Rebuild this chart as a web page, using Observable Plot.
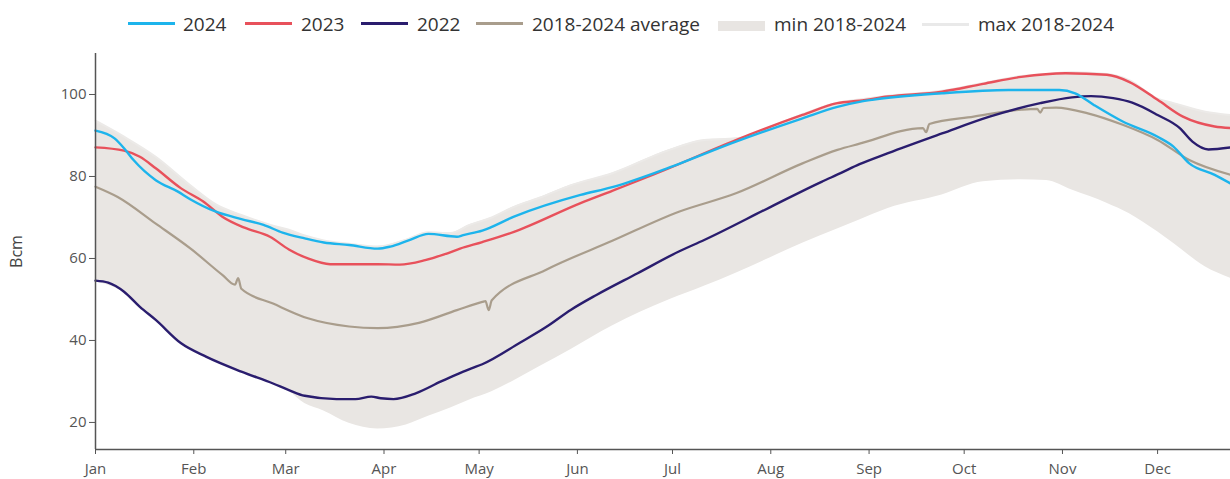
<!DOCTYPE html>
<html>
<head>
<meta charset="utf-8">
<script src="https://cdn.jsdelivr.net/npm/d3@7"></script>
<script src="https://cdn.jsdelivr.net/npm/@observablehq/plot@0.6"></script>
<style>
  body { margin: 0; background: #fff; font-family: "Open Sans", sans-serif; }
  #legend { position: relative; width: 1230px; height: 45px; }
  .sw { position: absolute; }
  .lt { position: absolute; top: 10px; font-size: 19px; line-height: 28px; color: #333; white-space: nowrap; }
  #chart svg { display: block; }
</style>
</head>
<body>
<div id="legend"></div>
<div id="chart"></div>
<script>
// ---- data (month-day, Bcm) ----
const series2024 = [
  ["01-01",91.2],["01-07",89.3],["01-10",86.9],["01-13",84.0],["01-20",79.1],["01-27",76.3],["01-31",74.4],
  ["02-08",71.4],["02-16",69.6],["02-23",68.2],["02-29",66.3],["03-07",64.9],["03-13",63.9],["03-21",63.3],
  ["03-30",62.4],["04-03",62.9],["04-09",64.5],["04-15",66.0],["04-24",65.3],["04-26",65.7],["05-02",66.8],
  ["05-12",70.2],["06-02",75.5],["06-12",77.4],["06-28",81.6],["07-21",88.5],["08-11",94.2],["08-22",97.0],
  ["08-29",98.2],["09-02",98.7],["09-24",100.3],["10-15",101.1],["10-31",101.1],["11-05",100.3],["11-11",97.4],
  ["11-20",93.4],["12-01",89.7],["12-06",87.3],["12-11",83.2],["12-19",80.4],["12-24",78.3]
];
const series2023 = [
  ["01-01",87.1],["01-10",86.3],["01-15",84.8],["01-20",82.0],["01-28",77.1],["02-04",73.9],["02-10",70.2],
  ["02-17",67.5],["02-25",65.3],["03-02",62.2],["03-08",60.0],["03-15",58.6],["03-30",58.6],["04-06",58.5],
  ["04-14",59.6],["04-20",61.0],["04-25",62.4],["05-02",64.0],["05-12",66.5],["06-02",73.5],["06-12",76.5],
  ["06-28",81.4],["07-21",88.9],["08-11",95.0],["08-22",97.9],["08-29",98.5],["09-07",99.5],["09-24",100.7],
  ["10-07",102.6],["10-19",104.3],["11-02",105.2],["11-15",104.8],["11-22",103.1],["12-01",98.7],["12-09",94.6],
  ["12-19",92.2],["12-24",91.8]
];
const series2022 = [
  ["01-01",54.6],["01-05",54.1],["01-10",51.9],["01-15",48.2],["01-20",45.0],["01-28",39.3],["02-05",36.0],
  ["02-16",32.4],["02-26",29.5],["03-02",27.9],["03-07",26.5],["03-17",25.7],["03-23",25.7],["03-28",26.3],
  ["03-31",25.9],["04-04",25.7],["04-11",27.1],["04-19",30.0],["04-26",32.4],["04-29",33.3],["05-02",34.2],
  ["05-14",39.5],["05-22",43.2],["05-30",47.5],["06-07",51.1],["06-20",56.4],["07-03",61.7],["07-11",64.5],
  ["08-01",72.6],["08-17",78.7],["08-23",80.8],["08-29",83.0],["09-07",85.7],["09-24",90.5],["10-09",94.6],
  ["10-25",97.9],["11-04",99.3],["11-10",99.6],["11-17",99.1],["11-23",98.0],["12-01",95.0],["12-08",91.8],
  ["12-12",88.5],["12-17",86.6],["12-24",87.1]
];
const seriesAvg = [
  ["01-01",77.5],["01-08",75.0],["01-20",68.5],["01-31",62.4],["02-10",56.0],["02-14",53.6],["02-15",55.2],
  ["02-16",52.6],["02-26",49.0],["03-08",45.4],["03-21",43.4],["03-30",43.0],["04-12",44.3],["04-24",47.4],
  ["05-02",49.4],["05-03",49.6],["05-04",47.4],["05-05",49.8],["05-22",57.2],["06-12",64.3],["07-03",71.4],
  ["07-21",75.9],["08-11",83.2],["08-22",86.5],["08-29",88.0],["09-18",91.8],["09-19",90.8],["09-20",92.8],
  ["10-04",94.6],["10-19",96.3],["10-24",96.5],["10-25",95.6],["10-26",96.7],["10-30",96.8],["11-09",95.4],
  ["11-20",92.6],["12-01",88.9],["12-11",84.0],["12-24",80.4]
];
const bandDates = ["01-01","01-10","01-20","01-31","02-08","02-16","02-26","03-02","03-07","03-13","03-21","03-30",
  "04-08","04-15","04-22","04-28","05-05","05-12","05-20","05-30","06-12","06-30","07-11","07-21","08-11","08-22",
  "08-29","09-07","09-24","10-07","10-19","10-27","11-04","11-15","11-22","12-01","12-06","12-16","12-24"];
const bandMin = [54.4,51.7,44.8,37.8,34.8,32.2,29.3,27.6,24.6,22.8,19.8,18.4,
  19.4,21.5,23.5,25.5,27.5,30.2,33.6,37.8,43.5,49.9,53.2,56.4,63.7,67.2,
  69.4,72.2,75.5,78.7,79.2,79.0,76.7,73.5,71.0,66.5,63.7,58.0,55.2];
const bandMax = [93.6,89.7,84.8,77.8,73.2,70.6,68.0,67.0,65.6,64.4,63.6,62.9,
  64.6,66.4,66.2,68.2,70.0,72.6,74.8,77.9,80.8,86.5,88.9,89.3,95.2,98.0,
  98.8,99.7,100.9,102.8,104.5,105.0,105.4,105.0,103.5,99.0,97.9,95.8,95.0];
const yTicks = [20, 40, 60, 80, 100];
const monthStarts = ["01-01","02-01","03-01","04-01","05-01","06-01","07-01","08-01","09-01","10-01","11-01","12-01"];

const legendItems = [
  {label: "2024", color: "#1db4ec", kind: "line", left: 128, tl: 183},
  {label: "2023", color: "#e8515b", kind: "line", left: 245, tl: 301},
  {label: "2022", color: "#2a1d6e", kind: "line", left: 361, tl: 417},
  {label: "2018-2024 average", color: "#a99d8c", kind: "line", left: 476, tl: 532},
  {label: "min 2018-2024", color: "#e8e5e2", kind: "rect", left: 718, tl: 774},
  {label: "max 2018-2024", color: "#e9e9e9", kind: "thin", left: 922, tl: 978}
];

// ---- build ----
const parse = s => new Date("2024-" + s + "T00:00:00Z");
const rows = arr => arr.map(([d, v]) => ({date: parse(d), value: v}));
const band = bandDates.map((d, i) => ({date: parse(d), min: bandMin[i], max: bandMax[i]}));
const yDomain = [13.4, 110];
const curve = "monotone-x";

const legend = document.getElementById("legend");
for (const it of legendItems) {
  const sw = document.createElement("div");
  sw.className = "sw";
  sw.style.left = it.left + "px";
  sw.style.width = "47px";
  sw.style.background = it.color;
  if (it.kind === "line") { sw.style.top = "22px"; sw.style.height = "3px"; }
  else if (it.kind === "rect") { sw.style.top = "21px"; sw.style.height = "10px"; }
  else { sw.style.top = "23px"; sw.style.height = "3px"; }
  legend.appendChild(sw);
  const t = document.createElement("div");
  t.className = "lt";
  t.style.left = it.tl + "px";
  t.textContent = it.label;
  legend.appendChild(t);
}

const chart = Plot.plot({
  width: 1230,
  height: 434,
  marginLeft: 95,
  marginRight: 0,
  marginTop: 8,
  marginBottom: 30,
  style: {fontFamily: '"Open Sans", sans-serif', fontSize: "15px", color: "#555", background: "#fff", overflow: "visible"},
  x: {type: "utc", domain: [parse("01-01"), parse("12-24")]},
  y: {domain: yDomain},
  marks: [
    Plot.areaY(band, {x: "date", y1: "min", y2: "max", fill: "#e9e6e3", curve}),
    Plot.lineY(band, {x: "date", y: "max", stroke: "#eceae8", strokeWidth: 2, curve}),
    Plot.lineY(rows(seriesAvg), {x: "date", y: "value", stroke: "#a99d8c", strokeWidth: 2.2, curve}),
    Plot.lineY(rows(series2022), {x: "date", y: "value", stroke: "#2a1d6e", strokeWidth: 2.4, curve}),
    Plot.lineY(rows(series2023), {x: "date", y: "value", stroke: "#e8515b", strokeWidth: 2.4, curve}),
    Plot.lineY(rows(series2024), {x: "date", y: "value", stroke: "#1db4ec", strokeWidth: 2.4, curve}),
    Plot.ruleX([parse("01-01")], {y1: yDomain[0], y2: yDomain[1], stroke: "#555", strokeWidth: 1.5}),
    Plot.ruleY([yDomain[0]], {stroke: "#555", strokeWidth: 1.5}),
    Plot.axisY({ticks: yTicks, tickSize: 6, tickPadding: 3, label: null, stroke: "#555"}),
    Plot.axisX({ticks: monthStarts.map(parse), tickFormat: d3.utcFormat("%b"), tickSize: 5, tickPadding: 9, label: null, stroke: "#555"}),
    Plot.text(["Bcm"], {frameAnchor: "left", dx: -79, rotate: -90, textAnchor: "middle", fontSize: 16, fill: "#444"})
  ]
});
document.getElementById("chart").appendChild(chart);
</script>
</body>
</html>
